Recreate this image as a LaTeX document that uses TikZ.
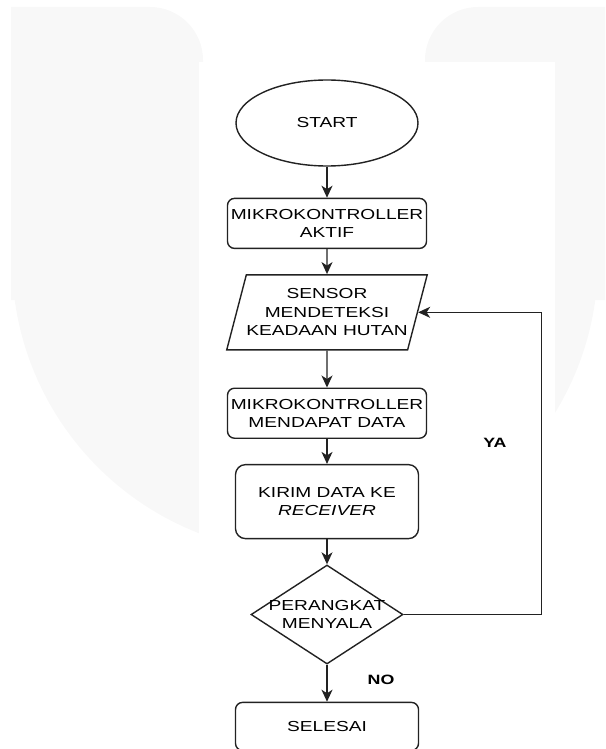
\documentclass[tikz,border=0pt]{standalone}
\usepackage{fontspec}
\setmainfont{Liberation Sans}[FakeStretch=1.32]
\usetikzlibrary{shapes.geometric, positioning, arrows.meta}
\definecolor{tanda}{HTML}{F8F8F8}
\definecolor{garis}{HTML}{222222}
\tikzset{
  teks/.style={
    align=center, text=black, font=\fontsize{14.5pt}{18.5pt}\selectfont
  },
  kotak/.style={
    teks, rectangle, rounded corners=7pt, draw=garis, line width=1.4pt,
    minimum width=199pt, minimum height=50pt, inner sep=0pt
  },
  mulai/.style={
    teks, ellipse, draw=garis, line width=1.4pt,
    minimum width=182pt, minimum height=86pt, inner sep=0pt
  },
  masukan/.style={
    teks, trapezium, trapezium left angle=67.5, trapezium right angle=112.5,
    trapezium stretches body, draw=garis, line width=1.4pt,
    minimum width=199pt, minimum height=75pt, inner sep=0pt
  },
  keputusan/.style={
    diamond, draw=garis, line width=1.4pt, aspect=1.5,
    minimum width=152pt, minimum height=99pt, inner sep=0pt
  },
  ket/.style={
    font=\fontsize{13.5pt}{15pt}\selectfont\bfseries
  },
  panah/.style={
    draw=garis, line width=1.4pt, -{Stealth[length=12pt, width=11pt, inset=3.5pt]}
  }
}

\begin{document}
\begin{tikzpicture}[x=1pt, y=-1pt]
  \useasboundingbox (0,0) rectangle (605,749);
  % watermark di belakang
  \fill[tanda] (11,7) -- (150,7) arc[start angle=-90, end angle=0, radius=53] -- (203,300) -- (11,300) -- cycle;
  \fill[tanda] (605,7) -- (478,7) arc[start angle=-90, end angle=-180, radius=53] -- (425,300) -- (605,300) -- cycle;
  \fill[tanda] (12,260) arc[start angle=180, end angle=0, radius=293] -- cycle;
  \fill[white] (199,62) rectangle (555,749);

  \node[mulai] (start) at (327,123) {START};
  \node[kotak, below=31pt of start] (aktif) {MIKROKONTROLLER\\AKTIF};
  \node[masukan, below=25pt of aktif] (sensor) {SENSOR\\MENDETEKSI\\KEADAAN HUTAN};
  \node[kotak, below=37pt of sensor] (dapat) {MIKROKONTROLLER\\MENDAPAT DATA};
  \node[kotak, rounded corners=10pt, minimum width=183pt, minimum height=74pt, below=25pt of dapat] (kirim) {KIRIM DATA KE\\\textit{RECEIVER}};
  \node[keputusan, below=25pt of kirim] (cek) {};
  \node[teks] (cekteks) at (cek) {PERANGKAT\\MENYALA};
  \node[kotak, minimum width=183pt, minimum height=48pt, below=37pt of cek] (selesai) {SELESAI};

  \draw[panah] (start) -- (aktif);
  \draw[panah] (aktif) -- (sensor);
  \draw[panah] (sensor) -- (dapat);
  \draw[panah] (dapat) -- (kirim);
  \draw[panah] (kirim) -- (cek);
  \draw[panah] (cek) -- (selesai);
  \draw[panah] (cek.east) -- ++(138,0) |- (sensor);

  \node[ket] (ya) at (495,443) {YA};
  \node[ket] (no) at (381,680) {NO};
\end{tikzpicture}
\end{document}
